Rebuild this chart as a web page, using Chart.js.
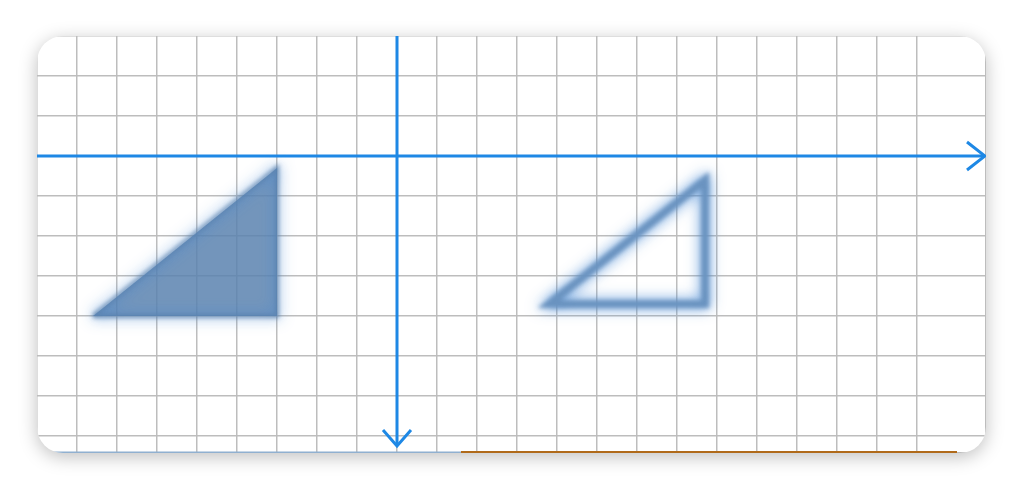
<!DOCTYPE html>
<html>
<head>
<meta charset="utf-8">
<script src="https://cdn.jsdelivr.net/npm/chart.js@4"></script>
<style>
  body { margin: 0; background: #fff; }
  #card {
    position: absolute; left: 37px; top: 36px; width: 949px; height: 417px;
    border-radius: 26px; overflow: hidden; background: #fff;
    box-shadow: 0 4px 18px rgba(0,0,0,0.25);
  }
</style>
</head>
<body>
<div id="card"><canvas id="c"></canvas></div>
<script>
// grid units (1 unit = one grid cell), origin where the blue axes cross
const xRange = [-9, 14.725];
const yRange = [-7.425, 3];
const xAxisLine = [{x: -9, y: 0}, {x: 14.7, y: 0}];
const yAxisLine = [{x: 0, y: 3}, {x: 0, y: -7.25}];
const xArrow = [{x: 14.25, y: 0.35}, {x: 14.7, y: 0}, {x: 14.25, y: -0.35}];
const yArrow = [{x: -0.35, y: -6.85}, {x: 0, y: -7.25}, {x: 0.35, y: -6.85}];
const filledTri = [{x: -7.6, y: -4}, {x: -3, y: -4}, {x: -3, y: -0.3}, {x: -7.6, y: -4}];
const outlineTri = [{x: 7.7, y: -3.7}, {x: 7.7, y: -0.6}, {x: 3.8, y: -3.7}, {x: 7.7, y: -3.7}, {x: 7.7, y: -0.6}];
const bottomBlue = [{x: -9, y: -7.41}, {x: 1.6, y: -7.41}];
const bottomOrange = [{x: 1.6, y: -7.41}, {x: 14, y: -7.41}];

const glow = {
  id: 'glow',
  beforeDatasetDraw(chart, args) {
    const ds = chart.data.datasets[args.index];
    if (ds.glow) {
      chart.ctx.save();
      chart.ctx.filter = 'blur(2px)';
      chart.ctx.shadowColor = 'rgba(60,130,210,0.9)';
      chart.ctx.shadowBlur = 14;
    }
  },
  afterDatasetDraw(chart, args) {
    if (chart.data.datasets[args.index].glow) chart.ctx.restore();
  }
};

function line(data, color, width, extra) {
  return Object.assign({
    data: data, borderColor: color, borderWidth: width, showLine: true,
    pointRadius: 0, fill: false, tension: 0
  }, extra || {});
}

new Chart(document.getElementById('c'), {
  type: 'scatter',
  data: {
    datasets: [
      line(filledTri, 'rgba(90,130,175,0.85)', 4, {fill: 'shape', backgroundColor: 'rgba(90,130,175,0.85)', glow: true}),
      line(outlineTri, '#6a93c0', 8, {glow: true, borderJoinStyle: 'miter'}),
      line(xAxisLine, '#1e88e5', 3),
      line(yAxisLine, '#1e88e5', 3),
      line(xArrow, '#1e88e5', 3),
      line(yArrow, '#1e88e5', 3),
      line(bottomBlue, '#90b0d0', 2),
      line(bottomOrange, '#b06a1a', 3)
    ]
  },
  options: {
    responsive: true, maintainAspectRatio: false, animation: false,
    layout: { padding: 0 },
    plugins: { legend: { display: false }, tooltip: { enabled: false } },
    scales: {
      x: {
        type: 'linear', min: xRange[0], max: xRange[1],
        ticks: { display: false, stepSize: 1 },
        grid: { color: '#bdbdbd', lineWidth: 1.5, drawTicks: false },
        border: { display: false }
      },
      y: {
        type: 'linear', min: yRange[0], max: yRange[1],
        ticks: { display: false, stepSize: 1 },
        grid: { color: '#bdbdbd', lineWidth: 1.5, drawTicks: false },
        border: { display: false }
      }
    }
  },
  plugins: [glow]
});
</script>
</body>
</html>
